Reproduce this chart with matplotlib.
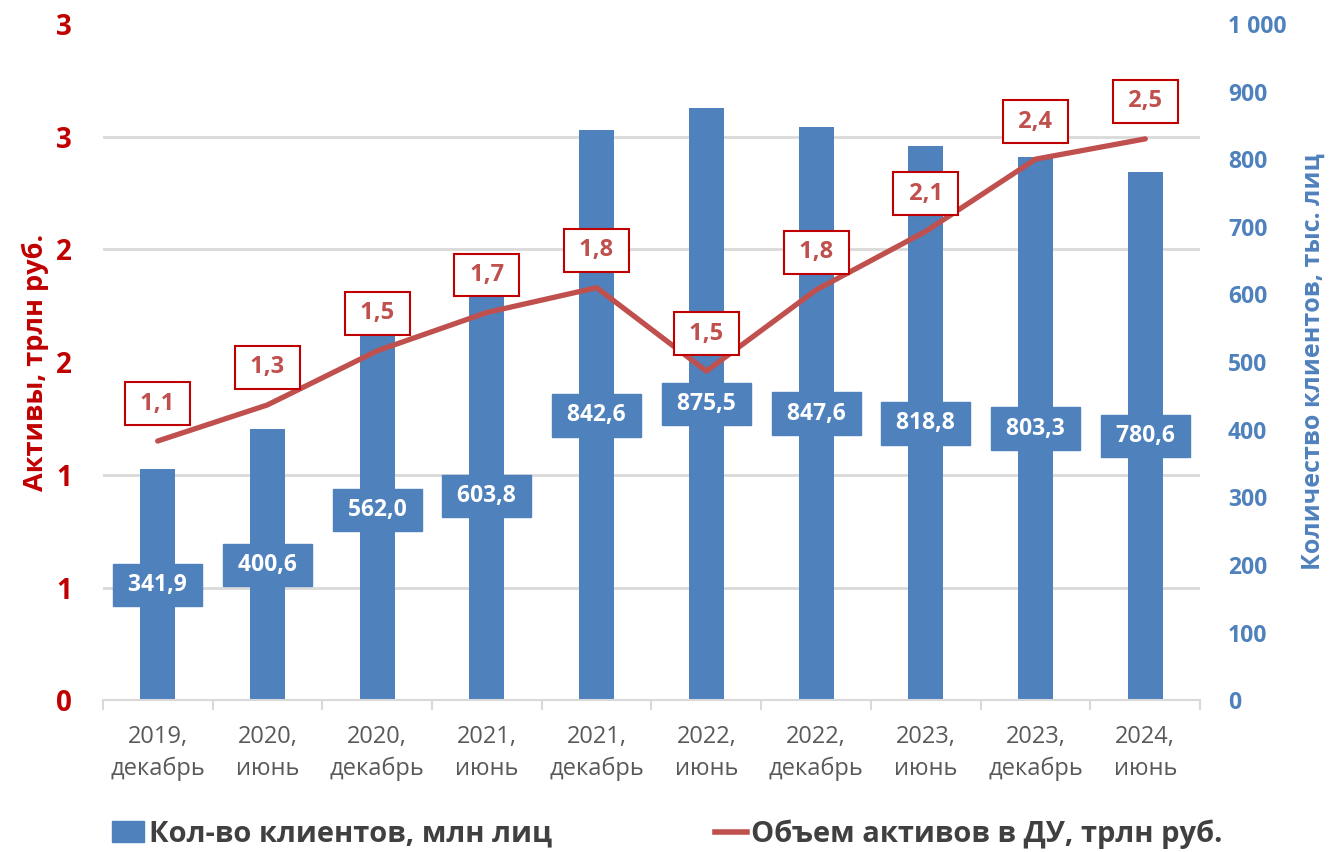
import matplotlib
matplotlib.use('Agg')
from matplotlib import pyplot as plt
from matplotlib.ticker import FixedLocator, FuncFormatter, MultipleLocator
from matplotlib.patches import Patch
from matplotlib.lines import Line2D
import numpy as np

plt.rcParams['font.family'] = ['Open Sans', 'DejaVu Sans']

# data
periods = ['2019,\nдекабрь', '2020,\nиюнь', '2020,\nдекабрь', '2021,\nиюнь', '2021,\nдекабрь',
           '2022,\nиюнь', '2022,\nдекабрь', '2023,\nиюнь', '2023,\nдекабрь', '2024,\nиюнь']
clients = [341.9, 400.6, 562.0, 603.8, 842.6, 875.5, 847.6, 818.8, 803.3, 780.6]
assets = [1.15, 1.31, 1.55, 1.72, 1.83, 1.46, 1.82, 2.08, 2.40, 2.49]
asset_labels = ['1,1', '1,3', '1,5', '1,7', '1,8', '1,5', '1,8', '2,1', '2,4', '2,5']

BLUE = '#4F81BD'
RED_LINE = '#C0504D'
RED_DARK = '#C00000'
GREY_TXT = '#595959'
GRID = '#D9D9D9'

fig = plt.figure(figsize=(13.35, 8.52), dpi=100)
ax = fig.add_axes([0.077, 0.178, 0.822, 0.794])   # bars (right scale)
ax2 = ax.twinx()                                   # line (left scale)

x = np.arange(len(periods))

# bars on the client axis
ax.bar(x, clients, width=0.32, color=BLUE, zorder=2)
ax.set_ylim(0, 1000)
ax.set_xlim(-0.5, len(periods) - 0.5)
ax.yaxis.tick_right()
ax.yaxis.set_label_position('right')
ax.yaxis.set_major_locator(MultipleLocator(100))
ax.yaxis.set_major_formatter(FuncFormatter(lambda v, p: f'{int(v):,}'.replace(',', ' ')))
ax.tick_params(axis='y', length=0, pad=20, labelsize=16.5, labelcolor=BLUE)
for t in ax.get_yticklabels():
    t.set_fontweight('bold')
ax.set_ylabel('Количество клиентов, тыс. лиц', color=BLUE, fontsize=18, fontweight='bold', labelpad=10)

# grid follows the left axis ticks (step 0.5 of 3)
left_ticks = np.arange(0, 3.01, 0.5)
ax.yaxis.set_minor_locator(FixedLocator(left_ticks / 3 * 1000))
ax.tick_params(axis='y', which='minor', length=0)
ax.grid(axis='y', which='minor', color=GRID, linewidth=2, zorder=0)
ax.set_axisbelow(True)

# value boxes in the middle of each bar
for i, v in enumerate(clients):
    ax.text(i, v / 2, ' ' + f'{v:.1f}'.replace('.', ',') + ' ', ha='center', va='center', color='white',
            fontsize=16.5, fontweight='bold', zorder=3,
            bbox=dict(boxstyle='square,pad=0.4', facecolor=BLUE, edgecolor=BLUE))

# x axis
ax.set_xticks(x)
ax.set_xticklabels(periods, fontsize=17, color=GREY_TXT, linespacing=1.4)
ax.xaxis.set_minor_locator(FixedLocator(np.arange(-0.5, len(periods), 1.0)))
ax.tick_params(axis='x', which='major', length=0, pad=18)
ax.tick_params(axis='x', which='minor', length=7, color=GRID, width=1.5)
for s in ['top', 'left', 'right']:
    ax.spines[s].set_visible(False)
ax.spines['bottom'].set_color(GRID)
ax.spines['bottom'].set_linewidth(1.5)

# line on the asset axis
ax2.plot(x, assets, color=RED_LINE, linewidth=3.8, solid_capstyle='round', zorder=4)
ax2.set_ylim(0, 3)
ax2.yaxis.tick_left()
ax2.yaxis.set_label_position('left')
ax2.yaxis.set_major_locator(FixedLocator(left_ticks))
ax2.yaxis.set_major_formatter(FuncFormatter(lambda v, p: str(int(np.floor(v + 0.5)))))
ax2.tick_params(axis='y', length=0, pad=22, labelsize=20, labelcolor=RED_DARK)
for t in ax2.get_yticklabels():
    t.set_fontweight('bold')
ax2.set_ylabel('Активы, трлн руб.', color=RED_DARK, fontsize=19.5, fontweight='bold', labelpad=5)
for s in ax2.spines.values():
    s.set_visible(False)

# boxed labels above the line points
for i, (v, lab) in enumerate(zip(assets, asset_labels)):
    ax2.annotate(' ' + lab + ' ', (i, v), xytext=(0, 27), textcoords='offset points', ha='center', va='center',
                 color=RED_LINE, fontsize=17, fontweight='bold', zorder=5,
                 bbox=dict(boxstyle='square,pad=0.4', facecolor='white', edgecolor=RED_DARK, linewidth=1.5))

handles = [Patch(facecolor=BLUE, edgecolor=BLUE),
           Line2D([0], [0], color=RED_LINE, linewidth=4)]
fig.legend(handles, ['Кол-во клиентов, млн лиц', 'Объем активов в ДУ, трлн руб.'],
           loc='center', bbox_to_anchor=(0.5, 0.021), ncol=2, frameon=False,
           prop={'size': 21, 'weight': 'bold'}, labelcolor='#404040',
           handlelength=1.1, handletextpad=0.15, columnspacing=5.6)

fig.savefig('out.png', dpi=100)
